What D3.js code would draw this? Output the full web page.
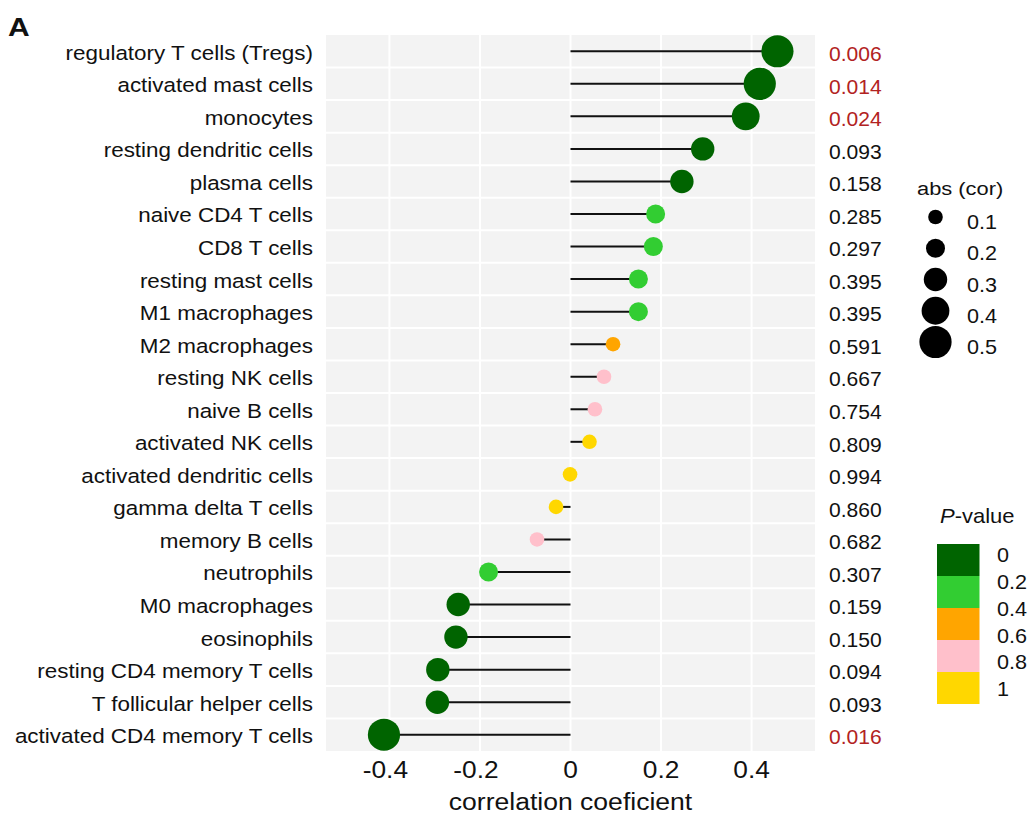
<!DOCTYPE html>
<html>
<head>
<meta charset="utf-8">
<script src="https://cdn.jsdelivr.net/npm/d3@7"></script>
<style>
  body { margin: 0; background: #fff; }
  svg { font-family: "Liberation Sans", Arial, sans-serif; }
</style>
</head>
<body>
<svg id="chart" width="1030" height="815"></svg>
<script>
// cell types, top to bottom
var cells = ["regulatory T cells (Tregs)", "activated mast cells", "monocytes",
  "resting dendritic cells", "plasma cells", "naive CD4 T cells", "CD8 T cells",
  "resting mast cells", "M1 macrophages", "M2 macrophages", "resting NK cells",
  "naive B cells", "activated NK cells", "activated dendritic cells",
  "gamma delta T cells", "memory B cells", "neutrophils", "M0 macrophages",
  "eosinophils", "resting CD4 memory T cells", "T follicular helper cells",
  "activated CD4 memory T cells"];

// correlation coefficient per cell type
var cors = [0.457, 0.418, 0.387, 0.292, 0.246, 0.188, 0.183, 0.150, 0.150, 0.094,
  0.074, 0.054, 0.042, -0.001, -0.032, -0.074, -0.181, -0.248, -0.253, -0.293,
  -0.294, -0.412];

// p-values (as printed)
var pvals = ["0.006", "0.014", "0.024", "0.093", "0.158", "0.285", "0.297", "0.395",
  "0.395", "0.591", "0.667", "0.754", "0.809", "0.994", "0.860", "0.682", "0.307",
  "0.159", "0.150", "0.094", "0.093", "0.016"];

var xTicks = [-0.4, -0.2, 0, 0.2, 0.4];
var xTickLabels = ["-0.4", "-0.2", "0", "0.2", "0.4"];
var sizeBreaks = [0.1, 0.2, 0.3, 0.4, 0.5];
var pBreaks = [0.2, 0.4, 0.6, 0.8];
var pColors = ["#006400", "#32CD32", "#FFA500", "#FFC0CB", "#FFD700"];
var pLabels = ["0", "0.2", "0.4", "0.6", "0.8", "1"];

var data = cells.map(function(c, i) {
  return { cell: c, cor: cors[i], p: +pvals[i], ptxt: pvals[i] };
});

var svg = d3.select("#chart");
var SX = 1.15; // reference font runs a bit wider than Liberation Sans

function label(g, x, y, txt, size, anchor, sx) {
  return g.append("text")
    .attr("transform", "translate(" + x + "," + y + ") scale(" + (sx || SX) + ",1)")
    .attr("text-anchor", anchor || "start")
    .attr("dominant-baseline", "central")
    .style("font-size", size + "px")
    .style("fill", "#111")
    .text(txt);
}

var pLeft = 326, pRight = 815, pTop = 35, pBottom = 751;

var x = d3.scaleLinear().domain([-0.54, 0.54]).range([pLeft, pRight]);
var y = d3.scaleBand().domain(cells).range([pTop, pBottom]).padding(0);
var color = d3.scaleThreshold().domain(pBreaks).range(pColors);
// size is binned: ceiling of abs(cor) in 0.1 steps
var rScale = d3.scaleLinear().domain([0.1, 0.5]).range([7.3, 16.1]);
function radius(v) {
  var b = Math.ceil(Math.abs(v) * 10 - 1e-9) / 10;
  return rScale(Math.max(0.1, b));
}
function cy(d) { return y(d.cell) + y.bandwidth() / 2; }

// panel
svg.append("rect")
  .attr("x", pLeft).attr("y", pTop)
  .attr("width", pRight - pLeft).attr("height", pBottom - pTop)
  .attr("fill", "#f3f3f3");

// grid
svg.selectAll(".vgrid")
  .data(xTicks)
  .enter()
  .append("line")
  .attr("x1", function(d) { return x(d); })
  .attr("x2", function(d) { return x(d); })
  .attr("y1", pTop).attr("y2", pBottom)
  .style("stroke", "#fff")
  .style("stroke-width", 2);

svg.selectAll(".hgrid")
  .data(cells.slice(1))
  .enter()
  .append("line")
  .attr("x1", pLeft).attr("x2", pRight)
  .attr("y1", function(d) { return y(d); })
  .attr("y2", function(d) { return y(d); })
  .style("stroke", "#fff")
  .style("stroke-width", 2);

// lollipops
svg.selectAll(".stick")
  .data(data)
  .enter()
  .append("line")
  .attr("x1", x(0))
  .attr("x2", function(d) { return x(d.cor); })
  .attr("y1", cy)
  .attr("y2", cy)
  .style("stroke", "#111")
  .style("stroke-width", 2);

svg.selectAll(".dot")
  .data(data)
  .enter()
  .append("circle")
  .attr("cx", function(d) { return x(d.cor); })
  .attr("cy", cy)
  .attr("r", function(d) { return radius(d.cor); })
  .attr("fill", function(d) { return color(d.p); });

// y labels
data.forEach(function(d) {
  label(svg, 313, cy(d) + 1.5, d.cell, 19.5, "end");
});

// p-value text on right
data.forEach(function(d) {
  label(svg, 829, cy(d) + 3, d.ptxt, 19.5, "start", 1.08)
    .style("fill", d.p < 0.05 ? "#B22222" : "#111");
});

// x ticks
xTicks.forEach(function(t, i) {
  label(svg, x(t) - (t < 0 ? 4 : 0), 770, xTickLabels[i], 23.5, "middle", 1.12);
});
label(svg, (pLeft + pRight) / 2, 802, "correlation coeficient", 23.5, "middle", 1.13);

// panel tag
svg.append("text")
  .attr("transform", "translate(8,36) scale(1.2,1)")
  .style("font-size", "25px")
  .style("font-weight", "bold")
  .style("fill", "#111")
  .text("A");

// size legend
label(svg, 917, 188, "abs (cor)", 19, "start", 1.15);
var sy = d3.scaleLinear().domain([0.1, 0.5]).range([217, 342]);
svg.selectAll(".sizeKey")
  .data(sizeBreaks)
  .enter()
  .append("circle")
  .attr("cx", 935.5)
  .attr("cy", function(d) { return sy(d); })
  .attr("r", function(d) { return rScale(d); })
  .attr("fill", "#000");
sizeBreaks.forEach(function(b) {
  label(svg, 967, sy(b) + 5, d3.format(".1f")(b), 20, "start", 1.08);
});

// p-value legend
var pt = svg.append("text")
  .attr("transform", "translate(940,515) scale(1.1,1)")
  .attr("dominant-baseline", "central")
  .style("font-size", "20px")
  .style("fill", "#111");
pt.append("tspan").style("font-style", "italic").text("P");
pt.append("tspan").text("-value");

var boxY = d3.scaleBand().domain(d3.range(pColors.length)).range([544, 704]);
svg.selectAll(".pKey")
  .data(pColors)
  .enter()
  .append("rect")
  .attr("x", 937)
  .attr("y", function(d, i) { return boxY(i); })
  .attr("width", 42.5)
  .attr("height", boxY.bandwidth())
  .attr("fill", function(d) { return d; });

var ly = d3.scaleLinear().domain([0, 1]).range([555, 689]);
pLabels.forEach(function(t) {
  label(svg, 997, ly(+t), t, 20, "start", 1.08);
});
</script>
</body>
</html>
